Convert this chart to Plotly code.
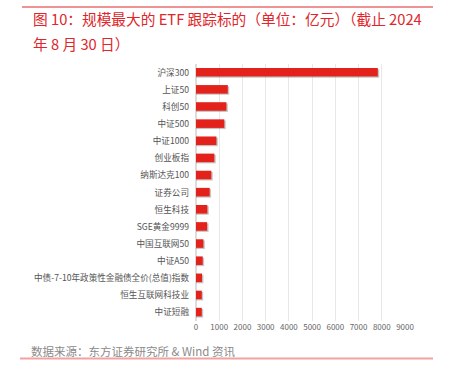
import plotly.graph_objects as go

categories = ["沪深300", "上证50", "科创50", "中证500", "中证1000", "创业板指", "纳斯达克100",
              "证券公司", "恒生科技", "SGE黄金9999", "中国互联网50", "中证A50",
              "中债-7-10年政策性金融债全价(总值)指数", "恒生互联网科技业", "中证短融"]
values = [7830, 1370, 1310, 1220, 880, 790, 660, 590, 490, 480, 320, 290, 260, 250, 250]
tick_vals = [0, 1000, 2000, 3000, 4000, 5000, 6000, 7000, 8000, 9000]

W, H = 454, 366
L, R, T, B = 196, 405, 64, 321
pw, ph = R - L, B - T

def px(x):
    return (x - L) / pw

def py(y):
    return (B - y) / ph

FONT = "Noto Sans CJK SC"
RED = "#e0262b"

fig = go.Figure()
# soft shadow behind each bar
fig.add_trace(go.Bar(
    y=categories, x=[v + 60 for v in values], orientation="h",
    marker=dict(color="rgba(90,90,90,0.35)", line=dict(width=0)),
    width=0.5, offset=-0.2, hoverinfo="skip", showlegend=False,
))
fig.add_trace(go.Bar(
    y=categories, x=values, orientation="h",
    marker=dict(color="#e3221c", line=dict(width=0)),
    width=0.5, offset=-0.27, showlegend=False,
))

fig.update_layout(
    width=W, height=H,
    margin=dict(l=L, r=W - R, t=T, b=H - B),
    paper_bgcolor="white", plot_bgcolor="white",
    barmode="overlay",
    font=dict(family=FONT, color="#555555", size=9),
    xaxis=dict(range=[0, 9000], tickvals=tick_vals, showgrid=True, gridcolor="#e8e8e8",
               gridwidth=1, zeroline=True, zerolinecolor="#dddddd", showline=False,
               tickfont=dict(size=8, color="#666666"), ticks="", fixedrange=True,
               automargin=False),
    yaxis=dict(autorange="reversed", showgrid=False, ticks="", showline=False,
               tickfont=dict(size=8.6, color="#555555"), ticklabelstandoff=6,
               automargin=False, fixedrange=True),
    shapes=[
        dict(type="line", xref="paper", yref="paper", x0=px(22), x1=px(433), y0=py(7), y1=py(7),
             line=dict(color=RED, width=1)),
        dict(type="line", xref="paper", yref="paper", x0=px(20), x1=px(433), y0=py(358.5), y1=py(358.5),
             line=dict(color="#f3a2a2", width=2)),
    ],
    annotations=[
        dict(text="图 10：规模最大的 ETF 跟踪标的（单位：亿元）（截止 2024", xref="paper", yref="paper",
             x=px(31), y=py(19), xanchor="left", yanchor="middle", showarrow=False,
             font=dict(family=FONT, size=14.7, color=RED)),
        dict(text="年 8 月 30 日）", xref="paper", yref="paper",
             x=px(31), y=py(43), xanchor="left", yanchor="middle", showarrow=False,
             font=dict(family=FONT, size=14.7, color=RED)),
        dict(text="数据来源：东方证券研究所 & Wind 资讯", xref="paper", yref="paper",
             x=px(29), y=py(351), xanchor="left", yanchor="middle", showarrow=False,
             font=dict(family=FONT, size=11.5, color="#8a8a8a")),
    ],
)

fig.write_html("out.html", config={"displayModeBar": False},
               post_script="document.body.style.margin='0';")
